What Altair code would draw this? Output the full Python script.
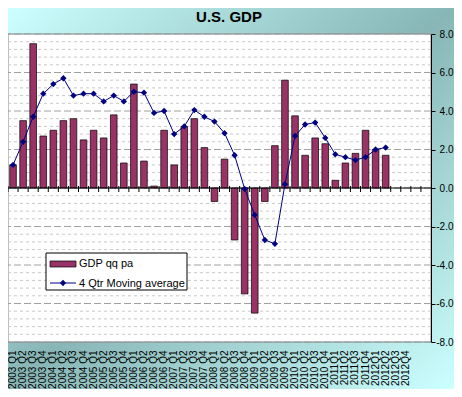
import altair as alt
import pandas as pd

# ---------------- data ----------------
quarters = ([f"{y} Q{q}" for y in range(2003, 2011) for q in range(1, 5)]
            + [f"{y}Q{q}" for y in (2011, 2012) for q in range(1, 5)]
            + [" ", "  "])

gdp_qq_pa = [1.2, 3.5, 7.5, 2.7,
             3.0, 3.5, 3.6, 2.5,
             3.0, 2.6, 3.8, 1.3,
             5.4, 1.4, 0.1, 3.0,
             1.2, 3.2, 3.6, 2.1,
             -0.7, 1.5, -2.7, -5.5,
             -6.5, -0.7, 2.2, 5.6,
             3.75, 1.7, 2.6, 2.3,
             0.4, 1.3, 1.8, 3.0,
             2.0, 1.7, None, None]

moving_avg = [1.2, 2.4, 3.7, 4.9,
              5.4, 5.7, 4.8, 4.9,
              4.9, 4.5, 4.8, 4.5,
              5.0, 4.95, 3.9, 4.0,
              2.8, 3.2, 4.05, 3.7,
              3.45, 2.85, 1.7, -0.05,
              -1.4, -2.7, -2.9, 0.2,
              2.7, 3.3, 3.4, 2.6,
              1.75, 1.6, 1.45, 1.6,
              2.0, 2.1, None, None]

y_ticks = [-8, -6, -4, -2, 0, 2, 4, 6, 8]
grid_minor = [round(-8 + 0.4 * i, 1) for i in range(41) if (i % 5) != 0]
grid_major = y_ticks
legend_labels = ["GDP qq pa", "4 Qtr Moving average"]
title_text = "U.S. GDP"

# ---------------- style ----------------
FONT = "Liberation Sans, Arial, sans-serif"
MAROON = "#993366"
NAVY = "#000080"
LIGHT = "#ccffff"
DARK = "#88b6b6"
W, H = 423, 308
PAD = {"left": 0, "top": 26, "right": 23, "bottom": 47}
TOTAL_W = W + PAD["left"] + PAD["right"]
TOTAL_H = H + PAD["top"] + PAD["bottom"]

bars_df = pd.DataFrame({"label": quarters[:40], "gdp": gdp_qq_pa}).dropna()
line_df = pd.DataFrame({"label": quarters[:40], "ma": moving_avg}).dropna()
q_df = pd.DataFrame({"label": quarters})
one = pd.DataFrame({"a": [0]})

xscale = alt.Scale(domain=quarters, paddingInner=0, paddingOuter=0)
yscale = alt.Scale(domain=[-8, 8], nice=False, zero=False)

x_axis = alt.Axis(title=None, orient="bottom", domain=False, ticks=False, tickSize=0,
                  grid=False, labelAngle=270, labelAlign="right", labelBaseline="middle",
                  labelFont=FONT, labelFontSize=10, labelColor="black", labelPadding=8,
                  labelOverlap=False, zindex=1)
y_axis = alt.Axis(title=None, orient="right", values=y_ticks, grid=False,
                  domain=True, domainColor="black", domainWidth=1,
                  ticks=True, tickColor="black", tickSize=4,
                  labelFont=FONT, labelFontSize=10, labelColor="black",
                  labelAlign="right", labelBaseline="middle", labelPadding=18,
                  labelExpr="(datum.value < 0 ? '-' : '') + format(abs(datum.value), '.1f')",
                  zindex=1)

X = alt.X("label:N", scale=xscale, axis=x_axis, sort=quarters)

bg = alt.Chart(one).mark_rect(
    fill={"gradient": "linear", "x1": 0, "y1": 0, "x2": 1, "y2": 1,
          "stops": [{"offset": 0, "color": LIGHT},
                    {"offset": 0.5, "color": DARK},
                    {"offset": 1, "color": LIGHT}]}
).encode(x=alt.value(-PAD["left"]), x2=alt.value(TOTAL_W),
         y=alt.value(-PAD["top"]), y2=alt.value(H + PAD["bottom"]))

title = alt.Chart(one).mark_text(text=title_text, font=FONT, fontSize=15, fontWeight="bold",
                                 color="black", align="center", baseline="alphabetic").encode(
    x=alt.value(221), y=alt.value(-12))

plot_bg = alt.Chart(one).mark_rect(fill="white", stroke="#808080", strokeWidth=1).encode(
    x=alt.value(0), x2=alt.value(W), y=alt.value(0), y2=alt.value(H))

minor = alt.Chart(pd.DataFrame({"v": grid_minor})).mark_rule(
    color="#c8c8c8", strokeWidth=1, strokeDash=[3, 3]).encode(
    y=alt.Y("v:Q", scale=yscale, axis=y_axis))

major = alt.Chart(pd.DataFrame({"v": grid_major})).mark_rule(
    color="#a0a0a0", strokeWidth=1, strokeDash=[7, 3]).encode(
    y=alt.Y("v:Q", scale=yscale, axis=y_axis))

bars = alt.Chart(bars_df).mark_bar(
    fill=MAROON, stroke="black", strokeWidth=0.7, width=alt.RelativeBandSize(0.66)
).encode(x=X, y=alt.Y("gdp:Q", scale=yscale, axis=y_axis))

zero = alt.Chart(one).mark_rule(color="black", strokeWidth=1).encode(
    y=alt.datum(0, scale=yscale, axis=y_axis))

ticks = alt.Chart(q_df).mark_rule(color="black", strokeWidth=1).encode(
    x=alt.X("label:N", scale=xscale, axis=x_axis, sort=quarters, bandPosition=0),
    y=alt.value(H / 2 - 2), y2=alt.value(H / 2 + 4))

line = alt.Chart(line_df).mark_line(color=NAVY, strokeWidth=1).encode(
    x=X, y=alt.Y("ma:Q", scale=yscale, axis=y_axis))

pts = alt.Chart(line_df).mark_point(shape="diamond", filled=True, size=40,
                                    color=NAVY, opacity=1).encode(
    x=X, y=alt.Y("ma:Q", scale=yscale, axis=y_axis))

leg_box = alt.Chart(one).mark_rect(fill="white", stroke="black", strokeWidth=1).encode(
    x=alt.value(38), x2=alt.value(179), y=alt.value(219), y2=alt.value(256))
leg_sw = alt.Chart(one).mark_rect(fill=MAROON, stroke="black", strokeWidth=0.7).encode(
    x=alt.value(42), x2=alt.value(68), y=alt.value(227), y2=alt.value(233))
leg_ln = alt.Chart(one).mark_rule(color=NAVY, strokeWidth=1).encode(
    x=alt.value(42), x2=alt.value(68), y=alt.value(249))
leg_pt = alt.Chart(one).mark_point(shape="diamond", filled=True, size=40,
                                   color=NAVY, opacity=1).encode(
    x=alt.value(55), y=alt.value(249))
leg_t1 = alt.Chart(one).mark_text(text=legend_labels[0], align="left", baseline="middle",
                                  font=FONT, fontSize=11, color="black").encode(
    x=alt.value(71), y=alt.value(230))
leg_t2 = alt.Chart(one).mark_text(text=legend_labels[1], align="left", baseline="middle",
                                  font=FONT, fontSize=11, color="black").encode(
    x=alt.value(71), y=alt.value(249.5))

chart = alt.layer(
    bg, title, plot_bg, minor, major, bars, zero, ticks, line, pts,
    leg_box, leg_sw, leg_ln, leg_pt, leg_t1, leg_t2
).properties(
    width=W, height=H, padding=PAD,
    autosize=alt.AutoSizeParams(type="none"),
    background="white",
).configure_view(stroke=None, fill=None)

chart.save("out.html", embed_options={"renderer": "svg", "actions": False})
